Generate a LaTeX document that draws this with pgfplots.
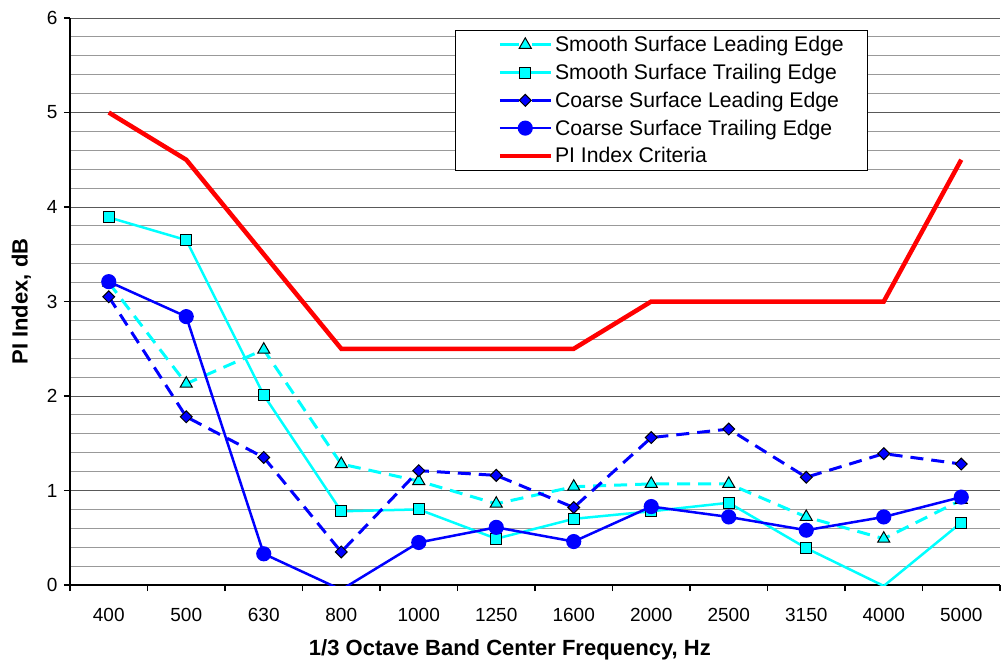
\documentclass[border=0pt]{standalone}
\usepackage{fontspec}
\setmainfont{Liberation Sans}
\usepackage{pgfplots}
\pgfplotsset{compat=1.18}
\definecolor{cyanx}{RGB}{0,255,255}
\definecolor{bluex}{RGB}{0,0,255}
\definecolor{redx}{RGB}{255,0,0}
\pgfplotsset{
  sle/.style={cyanx, line width=3pt, dash pattern=on 13pt off 8pt, mark=triangle*, mark size=7pt,
    mark options={solid, fill=cyanx, draw=black, line width=1pt}},
  ste/.style={cyanx, line width=2.5pt, mark=square*, mark size=5.5pt,
    mark options={solid, fill=cyanx, draw=black, line width=1pt}},
  cle/.style={bluex, line width=3pt, dash pattern=on 13pt off 8pt, mark=square*, mark size=4.2pt,
    mark options={solid, rotate=45, fill=bluex, draw=black, line width=1pt}},
  cte/.style={bluex, line width=2.5pt, mark=*, mark size=6.3pt,
    mark options={solid, fill=bluex, draw=bluex}},
}
\begin{document}
\begin{tikzpicture}
\begin{axis}[
  scale only axis, width=930pt, height=567pt,
  at={(0pt,0pt)}, anchor=south west,
  xmin=-0.5, xmax=11.5, ymin=0, ymax=6,
  xtick={-0.5,0.5,...,11.5},
  x tick label as interval,
  xticklabels={400,500,630,800,1000,1250,1600,2000,2500,3150,4000,5000},
  ytick={0,1,2,3,4,5,6},
  minor y tick num=4,
  ymajorgrids, yminorgrids,
  major grid style={black!65, line width=1pt},
  minor grid style={black!40, line width=1pt},
  axis x line*=bottom, axis y line*=left,
  axis line style={black, line width=1.2pt, -},
  tick style={black, line width=1.2pt},
  tick align=outside,
  major tick length=6pt,
  minor tick length=0pt,
  /pgf/number format/assume math mode=true,
  ticklabel style={font=\fontsize{19}{22}\selectfont},
  xticklabel style={yshift=-14pt},
  yticklabel style={xshift=-3pt},
  xlabel={1/3 Octave Band Center Frequency, Hz},
  ylabel={PI Index, dB},
  xlabel style={at={(axis description cs:0.473,-0.1145)}, anchor=center, font=\fontsize{22}{26}\selectfont\bfseries},
  ylabel style={at={(axis description cs:-0.0522,0.5)}, anchor=center, font=\fontsize{22}{26}\selectfont\bfseries},
  legend style={at={(axis description cs:0.414,0.979)}, anchor=north west, draw=black, line width=1pt, fill=white,
    font=\fontsize{21.2}{24}\selectfont, inner xsep=22pt, inner ysep=4pt, row sep=6.9pt},
  legend cell align=left,
  legend image code/.code={\path (-20pt,0pt); \draw[mark indices={2}] plot coordinates {(0pt,0pt)(25.5pt,0pt)(51pt,0pt)};},
]
% Smooth Surface Leading Edge
\addplot[sle, forget plot]
  coordinates {(0,3.20)(1,2.13)(2,2.49)(3,1.28)(4,1.10)(5,0.86)(6,1.04)(7,1.07)(8,1.07)(9,0.72)(10,0.49)(11,0.90)};
\addlegendimage{sle, dash pattern=on 19pt off 13pt}
\addlegendentry{Smooth Surface Leading Edge}
% Smooth Surface Trailing Edge: line through all points, marks on visible points
\addplot[ste, no marks, forget plot]
  coordinates {(0,3.89)(1,3.65)(2,2.01)(3,0.78)(4,0.80)(5,0.49)(6,0.70)(7,0.78)(8,0.87)(9,0.39)(10,-0.01)(11,0.66)};
\addplot[ste, only marks, forget plot]
  coordinates {(0,3.89)(1,3.65)(2,2.01)(3,0.78)(4,0.80)(5,0.49)(6,0.70)(7,0.78)(8,0.87)(9,0.39)(11,0.66)};
\addlegendimage{ste}
\addlegendentry{Smooth Surface Trailing Edge}
% Coarse Surface Leading Edge
\addplot[cle, forget plot]
  coordinates {(0,3.05)(1,1.78)(2,1.35)(3,0.35)(4,1.21)(5,1.16)(6,0.82)(7,1.56)(8,1.65)(9,1.14)(10,1.39)(11,1.28)};
\addlegendimage{cle, dash pattern=on 19pt off 13pt}
\addlegendentry{Coarse Surface Leading Edge}
% Coarse Surface Trailing Edge
\addplot[cte, no marks, forget plot]
  coordinates {(0,3.21)(1,2.84)(2,0.33)(3,-0.05)(4,0.45)(5,0.61)(6,0.46)(7,0.83)(8,0.72)(9,0.58)(10,0.72)(11,0.93)};
\addplot[cte, only marks, forget plot]
  coordinates {(0,3.21)(1,2.84)(2,0.33)(4,0.45)(5,0.61)(6,0.46)(7,0.83)(8,0.72)(9,0.58)(10,0.72)(11,0.93)};
\addlegendimage{cte}
\addlegendentry{Coarse Surface Trailing Edge}
% PI Index Criteria
\addplot[redx, line width=4.5pt, no marks]
  coordinates {(0,5)(1,4.5)(2,3.5)(3,2.5)(4,2.5)(5,2.5)(6,2.5)(7,3)(8,3)(9,3)(10,3)(11,4.5)};
\addlegendentry{PI Index Criteria}
\end{axis}
\pgfresetboundingbox
\useasboundingbox (-70pt,-77pt) rectangle (932pt,585pt);
\end{tikzpicture}
\end{document}
